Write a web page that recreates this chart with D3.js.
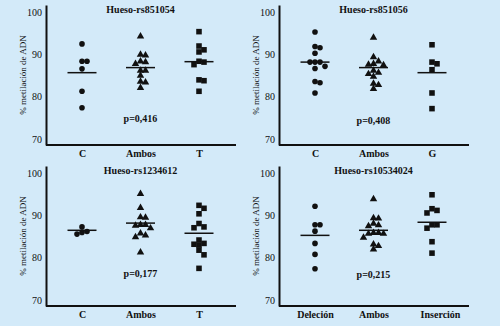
<!DOCTYPE html>
<html lang="es">
<head>
<meta charset="UTF-8">
<title>Metilación de ADN en hueso</title>
<script src="https://cdn.jsdelivr.net/npm/d3@7/dist/d3.min.js"></script>
<style>
  html, body { margin: 0; padding: 0; background: #d3eaf9; }
  svg { display: block; width: 500px; height: 326px; }
  text { font-family: "Liberation Serif", "DejaVu Serif", serif; fill: #111; }
</style>
</head>
<body>
<svg></svg>
<script>
// datos
var titles = ["Hueso-rs851054", "Hueso-rs851056", "Hueso-rs1234612", "Hueso-rs10534024"];
var categories = [
  ["C", "Ambos", "T"],
  ["C", "Ambos", "G"],
  ["C", "Ambos", "T"],
  ["Deleción", "Ambos", "Inserción"]
];
var pValues = ["p=0,416", "p=0,408", "p=0,177", "p=0,215"];
var yTicks = [70, 80, 90, 100];

// panel 1: rs851054
var rs851054C = [92.5, 88.4, 88.4, 86.6, 81.3, 77.4];
var rs851054Ambos = [94.3, 90.0, 89.8, 88.4, 88.2, 87.8, 86.2, 86.2, 85.0, 83.6, 83.4, 82.1];
var rs851054T = [95.4, 92.0, 91.1, 90.6, 88.4, 88.2, 87.6, 84.0, 83.8, 81.3];
var rs851054Means = [85.7, 86.9, 88.3];

// panel 2: rs851056
var rs851056C = [95.3, 91.9, 91.6, 90.3, 88.2, 88.2, 88.2, 87.2, 86.7, 83.6, 83.3, 80.9];
var rs851056Ambos = [94.0, 89.4, 88.4, 87.8, 87.6, 87.5, 86.2, 85.7, 85.4, 84.8, 83.1, 82.8, 81.9];
var rs851056G = [92.3, 88.2, 87.8, 86.4, 80.9, 77.2];
var rs851056Means = [88.2, 86.9, 85.7];

// panel 3: rs1234612
var rs1234612C = [87.3, 86.2, 86.0, 85.6];
var rs1234612Ambos = [95.1, 91.8, 89.6, 89.5, 87.8, 87.8, 87.6, 87.0, 85.8, 85.3, 84.9, 81.3];
var rs1234612T = [92.4, 91.7, 90.4, 88.1, 87.3, 87.1, 84.2, 83.4, 83.2, 83.0, 81.8, 80.7, 77.5];
var rs1234612Means = [86.5, 88.2, 85.8];

// panel 4: rs10534024
var rs10534024Del = [92.2, 87.8, 87.8, 86.3, 83.4, 80.8, 77.4];
var rs10534024Ambos = [93.9, 89.4, 89.3, 88.1, 87.7, 87.5, 85.9, 85.9, 85.7, 85.7, 84.8, 83.2, 82.8, 82.0];
var rs10534024Ins = [94.9, 91.6, 91.2, 90.6, 87.8, 87.8, 87.0, 83.8, 81.1];
var rs10534024Means = [85.3, 86.5, 88.4];

var panelData = [
  { groups: [rs851054C, rs851054Ambos, rs851054T], means: rs851054Means },
  { groups: [rs851056C, rs851056Ambos, rs851056G], means: rs851056Means },
  { groups: [rs1234612C, rs1234612Ambos, rs1234612T], means: rs1234612Means },
  { groups: [rs10534024Del, rs10534024Ambos, rs10534024Ins], means: rs10534024Means }
];

// posicion de cada panel (esquina superior del eje y)
var panelPos = [
  { left: 46, top: 5, pY: 117 },
  { left: 279, top: 5, pY: 119 },
  { left: 46, top: 166, pY: 111 },
  { left: 279, top: 166, pY: 112 }
];
var innerW = 190, innerH = 140;

var svg = d3.select("svg");

var yScale = d3.scaleLinear().domain([68.6, 101.7]).range([innerH, 0]);

// separa los puntos que se tocan (beeswarm sencillo)
function swarm(values, cx, step) {
  var placed = [];
  values.forEach(function(v) {
    var y = yScale(v);
    var offsets = [0];
    for (var k = 1; k < 8; k++) { offsets.push(k * step, -k * step); }
    for (var i = 0; i < offsets.length; i++) {
      var x = cx + offsets[i];
      var hit = placed.some(function(p) {
        return Math.hypot(p.x - x, p.y - y) < step;
      });
      if (!hit) { placed.push({ x: x, y: y, v: v }); break; }
    }
  });
  return placed;
}

var triangle = d3.symbol().type(d3.symbolTriangle).size(24)();
var square = d3.symbol().type(d3.symbolSquare).size(31)();

panelData.forEach(function(pd, pi) {
  var pos = panelPos[pi];
  var g = svg.append("g").attr("transform", "translate(" + pos.left + "," + pos.top + ")");

  var xScale = d3.scalePoint()
    .domain(categories[pi])
    .range([36, 153]);

  // eje y
  var yAxis = d3.axisLeft(yScale).tickValues(yTicks).tickSize(0).tickPadding(4);
  var ya = g.append("g").call(yAxis);
  ya.select(".domain").attr("stroke", "#111").attr("stroke-width", 2);
  ya.selectAll("text").style("font-size", "10px").attr("fill", "#222");

  // eje x
  var xAxis = d3.axisBottom(xScale).tickSize(0).tickPadding(5);
  var xa = g.append("g").attr("transform", "translate(0," + innerH + ")").call(xAxis);
  xa.select(".domain").attr("d", "M0,0H" + innerW).attr("stroke", "#111").attr("stroke-width", 2);
  xa.selectAll("text").style("font-size", "10px").style("font-weight", "bold").attr("fill", "#111")
    .attr("dx", function(d) { return d === "Inserción" ? 8 : 0; });

  // titulo del eje y
  g.append("text")
    .attr("transform", "translate(-23," + (innerH / 2) + ") rotate(-90)")
    .attr("text-anchor", "middle")
    .attr("dy", "0.35em")
    .style("font-size", "9px")
    .attr("fill", "#333")
    .text("% metilación de ADN");

  // titulo del panel
  g.append("text")
    .attr("x", xScale("Ambos"))
    .attr("y", 8)
    .attr("text-anchor", "middle")
    .style("font-size", "10px")
    .style("font-weight", "bold")
    .text(titles[pi]);

  // valor p
  g.append("text")
    .attr("x", xScale("Ambos"))
    .attr("y", pos.pY)
    .attr("text-anchor", "middle")
    .style("font-size", "10px")
    .style("font-weight", "bold")
    .text(pValues[pi]);

  // puntos
  pd.groups.forEach(function(vals, gi) {
    var cx = xScale(categories[pi][gi]);
    var pts = swarm(vals, cx, 5);
    var sel = g.append("g").selectAll("path").data(pts).enter();
    if (gi === 0) {
      sel.append("circle")
        .attr("cx", function(d) { return d.x; })
        .attr("cy", function(d) { return d.y; })
        .attr("r", 2.8)
        .attr("fill", "#111");
    } else {
      sel.append("path")
        .attr("d", gi === 1 ? triangle : square)
        .attr("transform", function(d) { return "translate(" + d.x + "," + d.y + ")"; })
        .attr("fill", "#111");
    }

    // linea de la media
    g.append("line")
      .attr("x1", cx - 14.5)
      .attr("x2", cx + 14.5)
      .attr("y1", yScale(pd.means[gi]))
      .attr("y2", yScale(pd.means[gi]))
      .attr("stroke", "#111")
      .attr("stroke-width", 1.5);
  });
});
</script>
</body>
</html>
